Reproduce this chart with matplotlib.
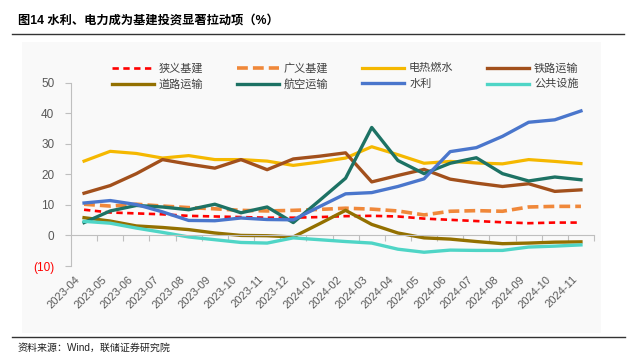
import numpy as np
import matplotlib.pyplot as plt
from matplotlib.patches import Rectangle
from matplotlib.transforms import ScaledTranslation

plt.rcParams['font.family'] = ['Liberation Sans', 'Noto Sans CJK SC', 'DejaVu Sans']

months = ['2023-04', '2023-05', '2023-06', '2023-07', '2023-08', '2023-09', '2023-10',
          '2023-11', '2023-12', '2024-01', '2024-02', '2024-03', '2024-04', '2024-05',
          '2024-06', '2024-07', '2024-08', '2024-09', '2024-10', '2024-11']

narrow = [8.4, 7.5, 7.2, 6.9, 6.4, 6.2, 6.0, 5.8, 5.8, 6.0, 6.3, 6.4, 6.2, 5.5, 5.1, 4.7, 4.3, 4.0, 4.2, 4.2]
broad = [10.2, 9.6, 10.2, 9.6, 9.1, 8.7, 8.2, 8.0, 8.2, 8.5, 8.9, 8.6, 8.0, 6.7, 7.9, 8.1, 7.9, 9.3, 9.5, 9.5]
power = [24.3, 27.5, 26.8, 25.3, 26.1, 24.8, 24.8, 24.3, 22.9, 24.0, 25.3, 29.0, 26.4, 23.6, 24.2, 23.7, 23.4, 24.8, 24.2, 23.5]
rail = [13.8, 16.3, 20.2, 24.8, 23.3, 22.0, 24.8, 21.5, 25.0, 25.9, 27.0, 17.5, 19.6, 21.6, 18.4, 17.1, 16.0, 16.9, 14.4, 14.9]
road = [5.8, 4.7, 3.1, 2.6, 1.9, 0.8, 0.0, -0.1, -0.5, 3.8, 8.2, 3.6, 0.8, -0.8, -1.2, -2.0, -2.7, -2.5, -2.2, -2.1]
air = [4.2, 8.0, 9.8, 9.3, 8.4, 10.2, 7.4, 9.3, 4.2, 11.4, 18.7, 35.3, 24.5, 20.2, 23.6, 25.4, 20.2, 17.8, 19.1, 18.2]
water = [10.6, 11.4, 10.1, 7.7, 4.9, 4.8, 5.7, 5.2, 5.1, 9.4, 13.6, 14.0, 16.0, 18.5, 27.4, 28.7, 32.4, 37.0, 37.8, 40.7]
public = [4.6, 4.0, 2.4, 1.0, -0.5, -1.4, -2.3, -2.5, -0.8, -1.4, -2.0, -2.5, -4.5, -5.5, -4.8, -4.9, -4.9, -3.8, -3.5, -3.1]

yticks = [-10, 0, 10, 20, 30, 40, 50]
ylabels = ['(10)', '0', '10', '20', '30', '40', '50']

fig = plt.figure(figsize=(6.36, 3.63), dpi=100)
# faint grey panel behind the chart
fig.patches.append(Rectangle((0.035, 0.083), 0.91, 0.80, transform=fig.transFigure,
                             facecolor='#f9f9f9', edgecolor='none', zorder=-10))
ax = fig.add_axes([0.1116, 0.2672, 0.8224, 0.5055])
ax.patch.set_alpha(0)

x = np.arange(len(months))
lines = []
lines += ax.plot(x, narrow, color='#ff0000', lw=1.9, dashes=(2.4, 1.7), label='狭义基建')
lines += ax.plot(x, broad, color='#f0883a', lw=2.6, dashes=(3.0, 1.4), label='广义基建')
lines += ax.plot(x, power, color='#f5b800', lw=2.3, label='电热燃水')
lines += ax.plot(x, rail, color='#a2501c', lw=2.4, label='铁路运输')
lines += ax.plot(x, road, color='#937000', lw=2.4, label='道路运输')
lines += ax.plot(x, air, color='#1d7264', lw=2.4, label='航空运输')
lines += ax.plot(x, water, color='#4a76cc', lw=2.4, label='水利')
lines += ax.plot(x, public, color='#4fd5c6', lw=2.4, label='公共设施')

ax.set_xlim(-0.5, len(months) - 0.5)
ax.set_ylim(-10, 50)
ax.set_yticks(yticks)
ax.set_yticklabels(ylabels, fontsize=8.5, color='#595959')
ax.get_yticklabels()[0].set_color('#ff0000')
ax.tick_params(axis='y', length=4, color='#bfbfbf', pad=8)

for s in ['top', 'right']:
    ax.spines[s].set_visible(False)
ax.spines['left'].set_color('#bfbfbf')
ax.spines['bottom'].set_position(('data', 0))
ax.spines['bottom'].set_color('#bfbfbf')
ax.set_xticks(np.arange(0.5, len(months)))
ax.set_xticklabels([])
ax.tick_params(axis='x', length=4, color='#bfbfbf')

sec = ax.secondary_xaxis('bottom')
sec.spines['bottom'].set_visible(False)
sec.set_xticks(x)
sec.set_xticklabels(months, rotation=45, ha='right', rotation_mode='anchor',
                    fontsize=8, color='#595959')
sec.tick_params(length=0, pad=6)
shift = ScaledTranslation(-9 / 100, 0, fig.dpi_scale_trans)
for lab in sec.get_xticklabels():
    lab.set_transform(lab.get_transform() + shift)

order = [0, 4, 1, 5, 2, 6, 3, 7]
ax.legend([lines[i] for i in order], [lines[i].get_label() for i in order],
          ncol=4, loc='upper left', bbox_to_anchor=(0.16, 0.855),
          bbox_transform=fig.transFigure, frameon=False, fontsize=8,
          handlelength=3.8, handletextpad=0.45, columnspacing=3.0, labelspacing=0.5,
          labelcolor='#404040')

fig.text(0.028, 0.94, '图14 水利、电力成为基建投资显著拉动项（%）', fontsize=8.8,
         fontweight='bold', va='center', family=['Liberation Sans', 'Noto Sans CJK SC'])
fig.add_artist(plt.Line2D([0.019, 0.981], [0.906, 0.906], color='#333333', lw=1))
fig.add_artist(plt.Line2D([0.019, 0.983], [0.072, 0.072], color='#333333', lw=1))
fig.text(0.028, 0.042, '资料来源：Wind，联储证券研究院', fontsize=7.2, va='center', color='#222222')

fig.savefig('out.png', dpi=100)
